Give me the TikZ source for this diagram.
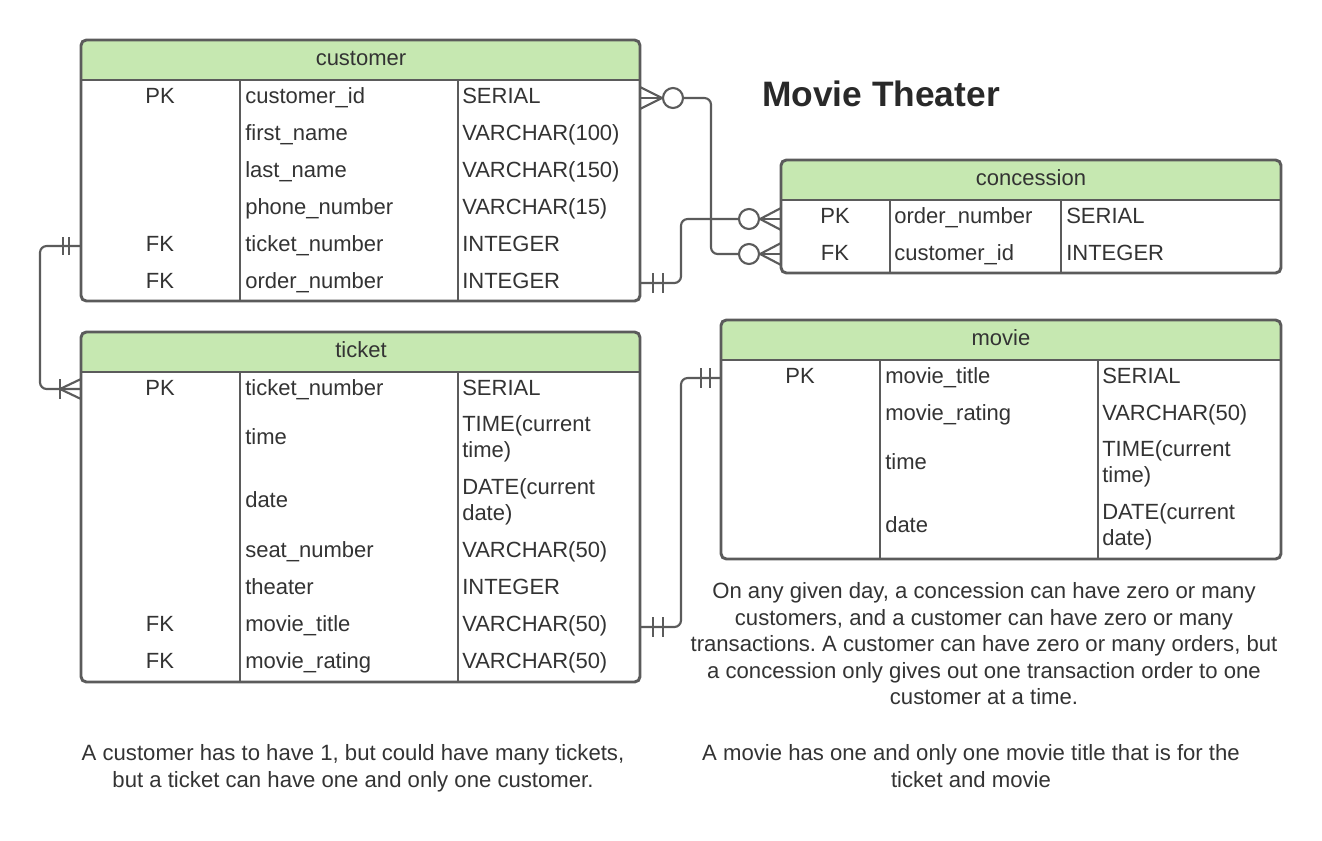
\documentclass[tikz,border=0pt]{standalone}
\usepackage{fontspec}
\setmainfont{Liberation Sans}
\frenchspacing
\usetikzlibrary{calc}
\definecolor{hdrgreen}{HTML}{C6E8B1}
\definecolor{linegray}{HTML}{5B5B5B}
\definecolor{txtgray}{HTML}{333333}
\newcommand\cellfont{\fontsize{16.5}{19.5}\selectfont}
\newcommand\ertable[8]{%
  \begin{scope}
    \clip[rounded corners=4pt] (#2,#3) rectangle (#4,#5);
    \fill[white] (#2,#3) rectangle (#4,#5);
    \fill[hdrgreen] (#2,#3) rectangle (#4,#6);
  \end{scope}
  \draw[tabborder] (#2,#6) -- (#4,#6);
  \draw[tabline] (#7,#6) -- (#7,#5);
  \draw[tabline] (#8,#6) -- (#8,#5);
  \draw[tabborder, rounded corners=4pt] (#2,#3) rectangle (#4,#5);
  \coordinate (#1-nw) at (#2,#3);
  \coordinate (#1-se) at (#4,#5);
}
\begin{document}
\begin{tikzpicture}[x=0.75pt,y=-0.75pt,
  tabborder/.style={draw=linegray, line width=2.2pt},
  tabline/.style={draw=linegray, line width=1.5pt},
  conn/.style={draw=linegray, line width=1.6pt},
  turn/.style={conn, rounded corners=5pt},
  zcirc/.style={circle, draw=linegray, line width=1.6pt, fill=white, minimum size=15pt, inner sep=0pt},
  hdr/.style={anchor=base, text=txtgray, font=\cellfont, inner sep=0pt},
  key/.style={anchor=base, text=txtgray, font=\cellfont, inner sep=0pt},
  fld/.style={anchor=base west, text=txtgray, font=\cellfont, inner sep=0pt},
  fld2/.style={anchor=west, align=left, text=txtgray, font=\cellfont, inner sep=0pt},
  para/.style={align=center, text=txtgray, font=\fontsize{16.6}{19.9}\selectfont, inner sep=0pt},
  ttl/.style={anchor=base, text=txtgray!80!black, font=\fontsize{26.5}{30}\selectfont\bfseries, inner sep=0pt}
]
\useasboundingbox (0,0) rectangle (1322,840);

% ---------- customer ----------
\ertable{cu}{81}{40}{640}{301}{80}{240}{458}
\node[hdr] (cu-h) at (361,65) {customer};
\node[key] (cu-k1) at (160,103) {PK};
\node[fld] (cu-n1) at (245,103) {customer\_id};
\node[fld] (cu-t1) at (462,103) {SERIAL};
\node[fld] (cu-n2) at (245,140) {first\_name};
\node[fld] (cu-t2) at (462,140) {VARCHAR(100)};
\node[fld] (cu-n3) at (245,177) {last\_name};
\node[fld] (cu-t3) at (462,177) {VARCHAR(150)};
\node[fld] (cu-n4) at (245,214) {phone\_number};
\node[fld] (cu-t4) at (462,214) {VARCHAR(15)};
\node[key] (cu-k5) at (160,251) {FK};
\node[fld] (cu-n5) at (245,251) {ticket\_number};
\node[fld] (cu-t5) at (462,251) {INTEGER};
\node[key] (cu-k6) at (160,288) {FK};
\node[fld] (cu-n6) at (245,288) {order\_number};
\node[fld] (cu-t6) at (462,288) {INTEGER};

% ---------- ticket ----------
\ertable{ti}{81}{332}{640}{682}{372}{240}{458}
\node[hdr] (ti-h) at (361,357) {ticket};
\node[key] (ti-k1) at (160,395) {PK};
\node[fld] (ti-n1) at (245,395) {ticket\_number};
\node[fld] (ti-t1) at (462,395) {SERIAL};
\node[fld] (ti-n2) at (245,444) {time};
\node[fld2] (ti-t2) at (462,438.5) {TIME(current\\time)};
\node[fld] (ti-n3) at (245,507) {date};
\node[fld2] (ti-t3) at (462,501.5) {DATE(current\\date)};
\node[fld] (ti-n4) at (245,557) {seat\_number};
\node[fld] (ti-t4) at (462,557) {VARCHAR(50)};
\node[fld] (ti-n5) at (245,594) {theater};
\node[fld] (ti-t5) at (462,594) {INTEGER};
\node[key] (ti-k6) at (160,631) {FK};
\node[fld] (ti-n6) at (245,631) {movie\_title};
\node[fld] (ti-t6) at (462,631) {VARCHAR(50)};
\node[key] (ti-k7) at (160,668) {FK};
\node[fld] (ti-n7) at (245,668) {movie\_rating};
\node[fld] (ti-t7) at (462,668) {VARCHAR(50)};

% ---------- concession ----------
\ertable{co}{781}{160}{1281}{273}{200}{890}{1061}
\node[hdr] (co-h) at (1031,185) {concession};
\node[key] (co-k1) at (835,223) {PK};
\node[fld] (co-n1) at (894,223) {order\_number};
\node[fld] (co-t1) at (1066,223) {SERIAL};
\node[key] (co-k2) at (835,260) {FK};
\node[fld] (co-n2) at (894,260) {customer\_id};
\node[fld] (co-t2) at (1066,260) {INTEGER};

% ---------- movie ----------
\ertable{mo}{721}{320}{1281}{559}{360}{880}{1098}
\node[hdr] (mo-h) at (1001,345) {movie};
\node[key] (mo-k1) at (800,383) {PK};
\node[fld] (mo-n1) at (885,383) {movie\_title};
\node[fld] (mo-t1) at (1102,383) {SERIAL};
\node[fld] (mo-n2) at (885,420) {movie\_rating};
\node[fld] (mo-t2) at (1102,420) {VARCHAR(50)};
\node[fld] (mo-n3) at (885,469) {time};
\node[fld2] (mo-t3) at (1102,463.5) {TIME(current\\time)};
\node[fld] (mo-n4) at (885,532) {date};
\node[fld2] (mo-t4) at (1102,526.5) {DATE(current\\date)};

% ---------- title ----------
\node[ttl] (title) at (881,106) {Movie Theater};

% ---------- connection points ----------
\coordinate (cu-r1) at (640,98);
\coordinate (cu-r6) at (640,283);
\coordinate (cu-l5) at (81,246);
\coordinate (ti-l1) at (81,389);
\coordinate (ti-r6) at (640,627);
\coordinate (co-l1) at (781,219);
\coordinate (co-l2) at (781,254);
\coordinate (mo-l1) at (721,378);

% customer.customer_id  <->  concession.customer_id (zero or many both ends)
\node[zcirc] (z1) at (673,98) {};
\node[zcirc] (z2) at (749,254) {};
\draw[conn] (cu-r1) -- (z1.west);
\draw[conn] (z1.west) -- ++(-22,-11);
\draw[conn] (z1.west) -- ++(-22,11);
\draw[turn] (z1.east) -- (711,98) |- (z2.west);
\draw[conn] (z2.east) -- (co-l2);
\draw[conn] (z2.east) -- ++(21,-11);
\draw[conn] (z2.east) -- ++(21,11);

% customer.order_number  <->  concession.order_number
\node[zcirc] (z3) at (749,219) {};
\draw[turn] (cu-r6) -- (681,283) |- (z3.west);
\draw[conn] (653,273) -- (653,293);
\draw[conn] (663,273) -- (663,293);
\draw[conn] (z3.east) -- (co-l1);
\draw[conn] (z3.east) -- ++(21,-11);
\draw[conn] (z3.east) -- ++(21,11);

% customer.ticket_number  <->  ticket (one and only one / one or many)
\draw[turn] (cu-l5) -- (40,246) |- (ti-l1);
\draw[conn] (63,237) -- (63,255);
\draw[conn] (69,237) -- (69,255);
\draw[conn] (60,379) -- (60,399);
\draw[conn] (60,389) -- (81,379);
\draw[conn] (60,389) -- (81,399);

% ticket.movie_title  <->  movie.movie_title
\draw[turn] (ti-r6) -- (681,627) |- (mo-l1);
\draw[conn] (653,617) -- (653,637);
\draw[conn] (663,617) -- (663,637);
\draw[conn] (701,368) -- (701,388);
\draw[conn] (710,368) -- (710,388);

% ---------- notes ----------
\node[para] (note1) at (984,644) {On any given day, a concession can have zero or many\\customers, and a customer can have zero or many\\transactions. A customer can have zero or many orders, but\\a concession only gives out one transaction order to one\\customer at a time.};
\node[para] (note2) at (353,768) {A customer has to have 1, but could have many tickets,\\but a ticket can have one and only one customer.};
\node[para] (note3) at (971,766) {A movie has one and only one movie title that is for the\\ticket and movie};
\end{tikzpicture}
\end{document}
